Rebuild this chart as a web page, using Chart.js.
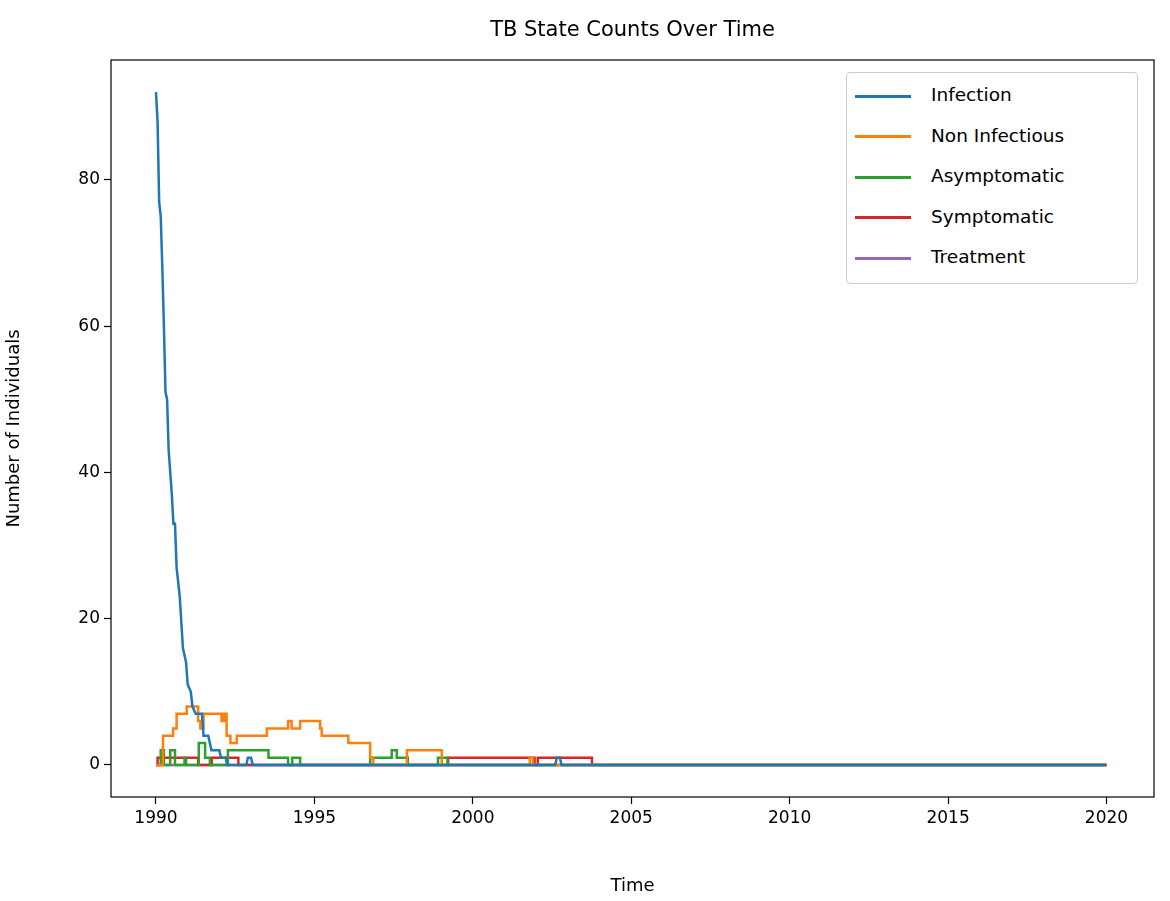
<!DOCTYPE html>
<html>
<head>
<meta charset="utf-8">
<script src="https://cdn.jsdelivr.net/npm/chart.js@4"></script>
<style>
  body { margin: 0; background: #fff; font-family: "DejaVu Sans", sans-serif; }
  #wrap { position: relative; width: 1170px; height: 901px; }
  #title { position: absolute; top: 17px; left: 111px; width: 1043px; text-align: center; font-size: 21px; }
  #legend { position: absolute; left: 846px; top: 72px; width: 290px; height: 210px; border: 1px solid #ccc; border-radius: 4px; background: #fff; font-size: 18.5px; }
  #legend div { height: 40.5px; line-height: 40.5px; margin-left: 8px; }
  #legend span { display: inline-block; width: 56px; height: 3px; vertical-align: middle; margin-right: 20px; }
  #legend .first { margin-top: 2px; }
</style>
</head>
<body>
<div id="wrap">
  <canvas id="c" width="1170" height="901"></canvas>
  <div id="title">TB State Counts Over Time</div>
  <div id="legend"></div>
</div>
<script>
// 数据：[年份, 人数]
const infection = [[1990.0,92],[1990.05,88],[1990.1,77],[1990.15,75],[1990.2,68],[1990.25,60],[1990.3,51],[1990.35,50],[1990.4,43],[1990.45,40],[1990.5,37],[1990.55,33],[1990.6,33],[1990.65,27],[1990.75,23],[1990.85,16],[1990.9,15],[1990.95,14],[1991.0,11],[1991.1,10],[1991.15,8],[1991.25,7],[1991.45,7],[1991.5,4],[1991.65,4],[1991.7,3],[1991.75,2],[1992.0,2],[1992.05,1],[1992.2,1],[1992.25,0],[1992.85,0],[1992.9,1],[1993.0,1],[1993.05,0],[2002.6,0],[2002.65,1],[2002.75,1],[2002.8,0],[2020,0]];
const nonInfectious = [[1990,0],[1990.22,4],[1990.54,5],[1990.65,7],[1990.97,8],[1991.33,6],[1991.4,5],[1991.5,7],[1992.07,6],[1992.15,7],[1992.23,4],[1992.35,3],[1992.55,4],[1993.5,5],[1994.17,6],[1994.28,5],[1994.55,6],[1995.18,5],[1995.23,4],[1996.07,3],[1996.76,1],[1996.86,0],[1997.92,2],[1999.02,0],[2001.8,1],[2001.9,0],[2020,0]];
const asymptomatic = [[1990,0],[1990.15,2],[1990.25,0],[1990.45,2],[1990.6,0],[1990.9,1],[1990.95,0],[1991.35,3],[1991.55,1],[1991.7,0],[1992.27,2],[1993.55,1],[1994.17,0],[1994.3,1],[1994.55,0],[1996.76,1],[1997.44,2],[1997.6,1],[1997.95,0],[1998.9,1],[1999.2,0],[2020,0]];
const symptomatic = [[1990,0],[1990.05,1],[1991.33,0],[1991.76,1],[1992.6,0],[1999.22,1],[2001.95,0],[2002.05,1],[2003.76,0],[2020,0]];
const treatment = [[1990,0],[2020,0]];

const names = ['Infection', 'Non Infectious', 'Asymptomatic', 'Symptomatic', 'Treatment'];
const colors = ['#1f77b4', '#ff7f0e', '#2ca02c', '#d62728', '#9467bd'];
const series = [infection, nonInfectious, asymptomatic, symptomatic, treatment];
const xTicks = [1990, 1995, 2000, 2005, 2010, 2015, 2020];
const yTicks = [0, 20, 40, 60, 80];

// 图例
const legend = document.getElementById('legend');
names.forEach((n, i) => {
    const d = document.createElement('div');
    if (i === 0) d.className = 'first';
    d.innerHTML = `<span style="background:${colors[i]}"></span>${n}`;
    legend.appendChild(d);
});

// 外框
const frame = {
    id: 'frame',
    afterDraw(chart) {
        const a = chart.chartArea, ctx = chart.ctx;
        ctx.save();
        ctx.strokeStyle = '#000';
        ctx.lineWidth = 1.2;
        ctx.strokeRect(a.left, a.top, a.right - a.left, a.bottom - a.top);
        ctx.restore();
    }
};

const tickFont = { family: 'DejaVu Sans', size: 17 };
const gridOpts = { display: true, drawOnChartArea: false, drawTicks: true, tickLength: 7, tickColor: '#000', tickWidth: 1.2 };
new Chart(document.getElementById('c'), {
    type: 'line',
    data: {
        datasets: series.map((s, i) => ({
            label: names[i],
            data: s.map(p => ({ x: p[0], y: p[1] })),
            borderColor: colors[i],
            borderWidth: 2.5,
            pointRadius: 0,
            stepped: i === 0 ? false : 'before',
            fill: false
        }))
    },
    options: {
        responsive: false,
        animation: false,
        layout: { padding: { top: 60, right: 16, left: 0, bottom: 0 } },
        plugins: { legend: { display: false }, tooltip: { enabled: false } },
        scales: {
            x: {
                type: 'linear', min: 1988.58, max: 2021.5,
                grid: gridOpts,
                border: { display: false },
                afterBuildTicks: sc => { sc.ticks = xTicks.map(v => ({ value: v })); },
                afterFit: sc => { sc.height = 104; },
                ticks: { color: '#000', font: tickFont, maxRotation: 0, padding: 4, callback: v => String(v) },
                title: { display: true, text: 'Time', color: '#000', font: { family: 'DejaVu Sans', size: 18 }, padding: { top: 2 } }
            },
            y: {
                min: -4.38, max: 96.4,
                grid: gridOpts,
                border: { display: false },
                afterBuildTicks: sc => { sc.ticks = yTicks.map(v => ({ value: v })); },
                afterFit: sc => { sc.width = 111; },
                ticks: { color: '#000', font: tickFont, padding: 4, callback: v => String(v) },
                title: { display: true, text: 'Number of Individuals', color: '#000', font: { family: 'DejaVu Sans', size: 18 }, padding: { bottom: 0 } }
            }
        }
    },
    plugins: [frame]
});
</script>
</body>
</html>
